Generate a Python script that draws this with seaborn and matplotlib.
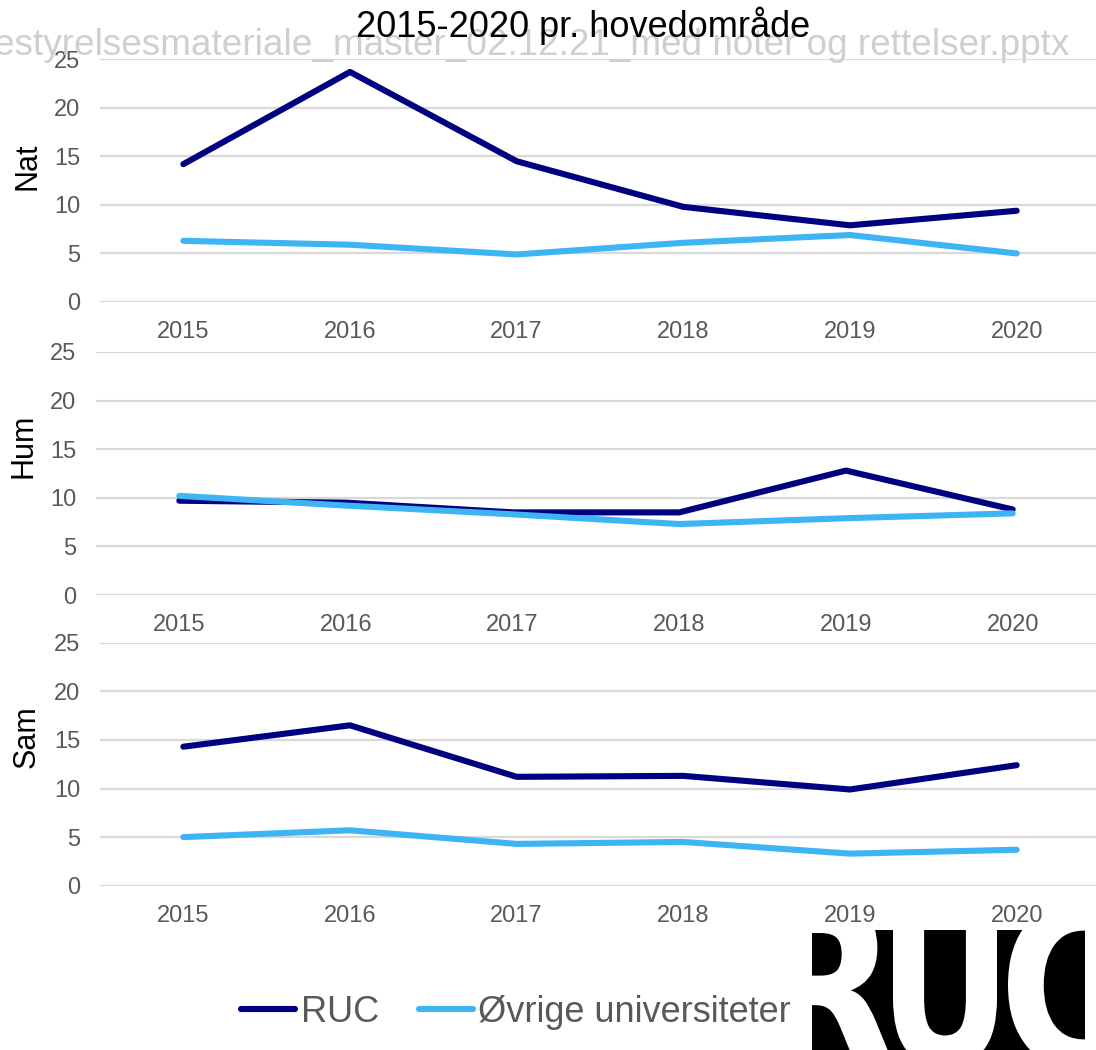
import numpy as np
import pandas as pd
import seaborn as sns
import matplotlib.pyplot as plt
from matplotlib.lines import Line2D
from matplotlib.patches import Rectangle, PathPatch
from matplotlib.textpath import TextPath
from matplotlib.font_manager import FontProperties
from matplotlib.transforms import Affine2D

# data
years = [2015, 2016, 2017, 2018, 2019, 2020]
areas = ["Nat", "Hum", "Sam"]
series = ["RUC", "Øvrige universiteter"]

nat_ruc = [14.2, 23.7, 14.5, 9.8, 7.9, 9.4]
nat_ovr = [6.3, 5.9, 4.9, 6.1, 6.9, 5.0]
hum_ruc = [9.7, 9.5, 8.5, 8.5, 12.8, 8.8]
hum_ovr = [10.2, 9.2, 8.3, 7.3, 7.9, 8.4]
sam_ruc = [14.3, 16.5, 11.2, 11.3, 9.9, 12.4]
sam_ovr = [5.0, 5.7, 4.3, 4.5, 3.3, 3.7]

values = {
    "Nat": (nat_ruc, nat_ovr),
    "Hum": (hum_ruc, hum_ovr),
    "Sam": (sam_ruc, sam_ovr),
}

rows = []
for area in areas:
    for name, vals in zip(series, values[area]):
        for yr, v in zip(years, vals):
            rows.append({"area": area, "serie": name, "year": yr, "value": v})
df = pd.DataFrame(rows)

palette = {"RUC": "#000080", "Øvrige universiteter": "#3db5f5"}

sns.set_style("white")
plt.rcParams["font.family"] = ["Liberation Sans", "DejaVu Sans"]

W, H = 1096, 1050
fig = plt.figure(figsize=(W / 100, H / 100), dpi=100)

# panel boxes in pixels: left, top(25), bottom(0)
boxes = [(100, 59.3, 302), (96, 352, 595), (100, 642.7, 885.7)]
label_y = [0.56, 0.615, 0.612]

for area, (left, top, bottom), ly in zip(areas, boxes, label_y):
    ax = fig.add_axes([left / W, 1 - bottom / H, 1000 / W, (bottom - top) / H])
    sns.lineplot(data=df[df["area"] == area], x="year", y="value", hue="serie",
                 palette=palette, linewidth=4.4, legend=False, ax=ax)
    ax.set_xlim(2014.5, 2020.5)
    ax.set_ylim(0, 25)
    ax.set_xticks(years)
    ax.set_yticks([0, 5, 10, 15, 20, 25])
    ax.grid(axis="y", color="#d9d9d9", linewidth=1.6)
    ax.set_axisbelow(True)
    for s in ax.spines.values():
        s.set_visible(False)
    ax.tick_params(axis="y", length=0, pad=14, labelsize=17, labelcolor="#595959")
    ax.tick_params(axis="x", length=0, pad=14, labelsize=17, labelcolor="#595959")
    ax.set_xlabel("")
    ax.set_ylabel(area, fontsize=22, color="black")
    ax.yaxis.set_label_coords(-0.058, ly)
    ax.patch.set_alpha(0)

# watermark text from the slide behind the title
fig.text(1069 / W, 1 - 55 / H, "estyrelsesmateriale_master_02.12.21_med noter og rettelser.pptx",
         fontsize=26.6, color="#cfcfcf", ha="right", va="baseline", zorder=0)
fig.text(583 / W, 1 - 36.7 / H, "2015-2020 pr. hovedområde",
         fontsize=26, color="black", ha="center", va="baseline", zorder=5)

# legend
handles = [Line2D([], [], color=palette[s], linewidth=4.4, solid_capstyle="round") for s in series]
leg = fig.legend(handles, series, loc="center", bbox_to_anchor=(516 / W, 1 - 1012 / H),
                 ncol=2, frameon=False, fontsize=26, handlelength=1.5,
                 handletextpad=0.15, columnspacing=1.1, borderpad=0)
for t in leg.get_texts():
    t.set_color("#595959")

# RUC logo: white letters cut out of a black block
lax = fig.add_axes([812 / W, 0, (1085 - 812) / W, 120 / H])
lax.set_xlim(812, 1085)
lax.set_ylim(1050, 930)
lax.axis("off")
lax.add_patch(Rectangle((812, 930), 273, 120, facecolor="black", edgecolor="none"))
fp = FontProperties(family="DejaVu Sans", weight="bold")
letters = [("R", 770, 895, 902, 1068), ("U", 893, 997, 902, 1066), ("C", 1008, 1122, 900, 1070)]
for ch, x0, x1, y0, y1 in letters:
    p = TextPath((0, 0), ch, size=1, prop=fp)
    ext = p.get_extents()
    tr = (Affine2D().translate(-ext.x0, -ext.y0)
          .scale((x1 - x0) / ext.width, -(y1 - y0) / ext.height)
          .translate(x0, y1))
    lax.add_patch(PathPatch(tr.transform_path(p), facecolor="white", edgecolor="none"))

fig.savefig("out.png", dpi=100)
